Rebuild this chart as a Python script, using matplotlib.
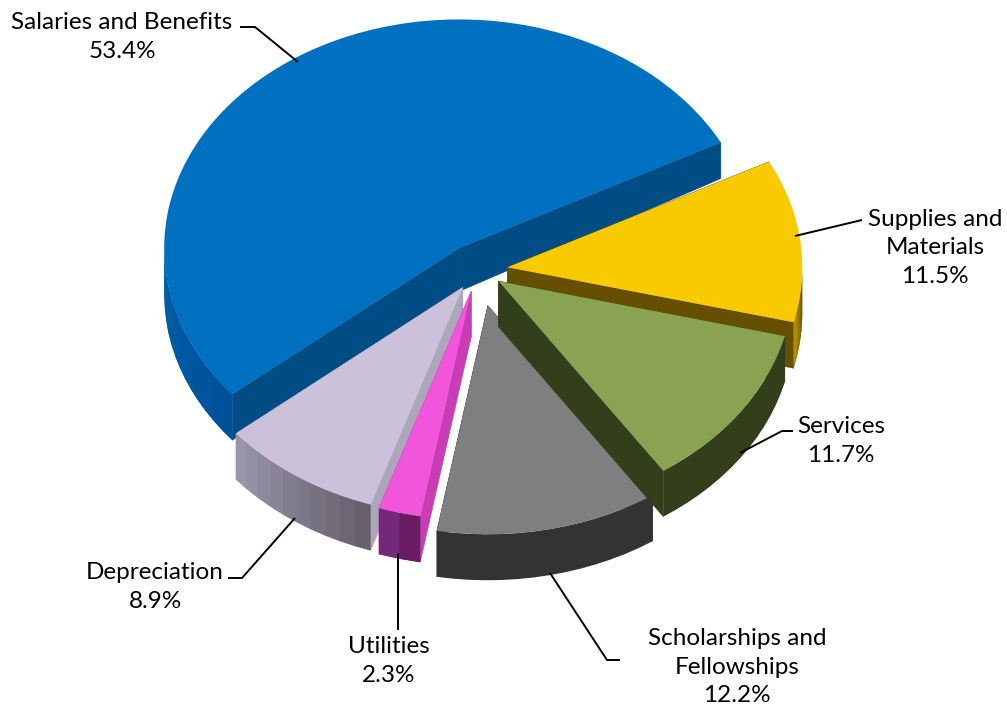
import numpy as np
import matplotlib
matplotlib.use("Agg")
import matplotlib.pyplot as plt
from matplotlib.patches import Wedge
from matplotlib.colors import to_rgb

# ---- data (counter-clockwise from the start angle)
categories = ["Salaries and Benefits", "Depreciation", "Utilities",
              "Scholarships and\nFellowships", "Services", "Supplies and\nMaterials"]
values = [53.4, 8.9, 2.3, 12.2, 11.7, 11.5]
explode = [34, 27, 28, 47, 25, 29.5]

# ---- style
top_colors = ["#0070C0", "#CCC1DA", "#F055DC", "#7F7F7F", "#8AA353", "#FACA00"]
cut_colors = ["#004C84", "#ABA6BA", "#C83CB4", "#333333", "#333F1A", "#665000"]
rim_from = ["#0060AA", "#9A96AA", "#74287A", "#333333", "#333F1A", "#B08C00"]
rim_to = ["#00509A", "#66606E", "#6A1C64", "#333333", "#333F1A", "#665000"]
draw_order = [0, 5, 3, 4, 1, 2]
label_xy = [(122, 37), (155, 587), (389, 661), (737, 667), (841, 441), (935, 248)]
leaders = [[(240, 27), (255, 27), (298, 62)],
           [(228, 578), (242, 578), (295, 518)],
           [(398, 553), (398, 630)],
           [(550, 573), (607, 660), (620, 660)],
           [(793, 431), (782, 431), (740, 453)],
           [(862, 220), (795, 236)]]
W, H = 1007, 713
CX, CY, R, SQ, START = 478, 270, 295, 0.775, 27.5

plt.rcParams["font.family"] = ["Lato", "DejaVu Sans"]
fig = plt.figure(figsize=(W / 100, H / 100), dpi=100)
ax = fig.add_axes([0, 0, 1, 1])
ax.set_xlim(-CX, W - CX)
ax.set_ylim(-(H - CY) / SQ, CY / SQ)
ax.axis("off")


def depth(y):
    py = CY - SQ * y
    return np.clip(36 + (py - 143) * 0.07, 36, 46) / SQ


def quad(p, q, color, z, lw=0.4):
    xs = [p[0], q[0], q[0], p[0]]
    ys = [p[1], q[1], q[1] - depth(q[1]), p[1] - depth(p[1])]
    ax.fill(xs, ys, facecolor=color, edgecolor=color if lw else "none", lw=lw, zorder=z)


fracs = np.array(values) / sum(values)
bounds = START + 360 * np.concatenate([[0], np.cumsum(fracs)])

for z, i in enumerate(draw_order):
    a0, a1 = bounds[i], bounds[i + 1]
    mid = np.radians((a0 + a1) / 2)
    ox, oy = explode[i] * np.cos(mid), explode[i] * np.sin(mid)
    base = z * 10
    # cut faces
    for ang in (a0, a1):
        a = np.radians(ang)
        quad((ox, oy), (ox + R * np.cos(a), oy + R * np.sin(a)), cut_colors[i], base + 1)
    # rim: solid base polygon, then shading bands
    angs = np.linspace(a0, a1, max(int(a1 - a0) // 3, 2) + 1)
    vis = [k for k in range(len(angs)) if np.sin(np.radians(angs[k])) < 0.02]
    rad = np.radians(angs[vis])
    rx, ry = ox + R * np.cos(rad), oy + R * np.sin(rad)
    c0, c1 = np.array(to_rgb(rim_from[i])), np.array(to_rgb(rim_to[i]))
    ax.fill(np.r_[rx, rx[::-1]], np.r_[ry, (ry - depth(ry))[::-1]],
            facecolor=tuple((c0 + c1) / 2), edgecolor="none", zorder=base + 2)
    if rim_from[i] != rim_to[i]:
        for n in range(len(vis) - 1):
            t = n / max(len(vis) - 2, 1)
            col = tuple(c0 + (c1 - c0) * t)
            quad((rx[n], ry[n]), (rx[n + 1], ry[n + 1]), col, base + 3, lw=0)
    # top
    ax.add_patch(Wedge((ox, oy), R, a0, a1, facecolor=top_colors[i], edgecolor="none", zorder=base + 4))

for path in leaders:
    xs = [p[0] - CX for p in path]
    ys = [(CY - p[1]) / SQ for p in path]
    ax.plot(xs, ys, color="black", lw=1.4, zorder=200, solid_capstyle="butt")

for name, val, (lx, ly) in zip(categories, values, label_xy):
    ax.text(lx - CX, (CY - ly) / SQ, f"{name}\n{val:.1f}%", ha="center", va="center",
            fontsize=17.5, color="black", linespacing=1.46, zorder=210)

fig.savefig("out.png", dpi=100)
